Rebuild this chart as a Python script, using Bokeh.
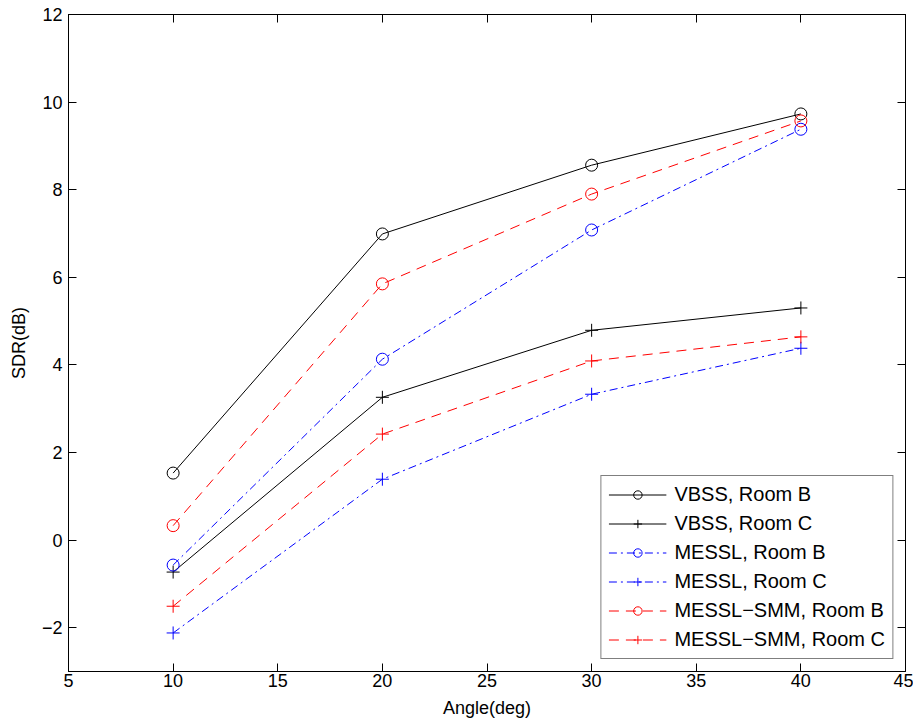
from bokeh.plotting import figure
from bokeh.models import LinearAxis, Range1d, FixedTicker, Legend, LegendItem
from bokeh.embed import file_html
from bokeh.resources import INLINE

angles = [10, 20, 30, 40]
vbss_b = [1.53, 6.99, 8.56, 9.73]
vbss_c = [-0.73, 3.26, 4.79, 5.30]
messl_b = [-0.57, 4.13, 7.08, 9.38]
messl_c = [-2.12, 1.39, 3.33, 4.38]
smm_b = [0.33, 5.85, 7.90, 9.57]
smm_c = [-1.51, 2.42, 4.09, 4.64]

x_ticks = [5, 10, 15, 20, 25, 30, 35, 40, 45]
y_ticks = [-2, 0, 2, 4, 6, 8, 10, 12]

FONT = "Liberation Sans"

p = figure(output_backend="svg", toolbar_location=None,
           frame_width=837, frame_height=657,
           x_range=Range1d(5, 45), y_range=Range1d(-3, 12),
           min_border_left=68, min_border_top=14, min_border_right=8,
           min_border_bottom=50)
p.background_fill_color = "white"
p.border_fill_color = "white"
p.outline_line_color = "black"
p.outline_line_width = 1
p.grid.visible = False

for ax in p.xaxis:
    ax.ticker = FixedTicker(ticks=x_ticks)
for ax in p.yaxis:
    ax.ticker = FixedTicker(ticks=y_ticks)

for ax in list(p.xaxis) + list(p.yaxis):
    ax.major_tick_in = 8
    ax.major_tick_out = 0
    ax.minor_tick_line_color = None
    ax.axis_line_color = "black"
    ax.major_tick_line_color = "black"
    ax.major_label_text_font = FONT
    ax.major_label_text_font_size = "18px"
    ax.major_label_text_color = "black"
    ax.axis_label_text_font = FONT
    ax.axis_label_text_font_size = "18px"
    ax.axis_label_text_font_style = "normal"
    ax.axis_label_text_color = "black"

p.xaxis.axis_label = "Angle(deg)"
p.yaxis.axis_label = "SDR(dB)"
p.yaxis.major_label_overrides = {-2: "\u22122"}
p.xaxis.major_label_standoff = 2
p.yaxis.major_label_standoff = 6
p.xaxis.axis_label_standoff = 8
p.yaxis.axis_label_standoff = 10

top = LinearAxis(ticker=FixedTicker(ticks=x_ticks), major_label_text_font_size="0px",
                 major_tick_in=8, major_tick_out=0, minor_tick_line_color=None,
                 major_label_standoff=0)
right = LinearAxis(ticker=FixedTicker(ticks=y_ticks), major_label_text_font_size="0px",
                   major_tick_in=8, major_tick_out=0, minor_tick_line_color=None,
                   major_label_standoff=0)
top.major_label_overrides = {t: "" for t in x_ticks}
right.major_label_overrides = {t: "" for t in y_ticks}
p.add_layout(top, "above")
p.add_layout(right, "right")

# (label, values, line colour, marker colour, dash, marker)
series = [
    ("VBSS, Room B", vbss_b, "#000000", "#010101", "solid", "circle"),
    ("VBSS, Room C", vbss_c, "#000000", "#000000", "solid", "cross"),
    ("MESSL, Room B", messl_b, "#0000ff", "#0000fe", "8 4 2 4", "circle"),
    ("MESSL, Room C", messl_c, "#0000ff", "#0000ff", "8 4 2 4", "cross"),
    ("MESSL\u2212SMM, Room B", smm_b, "#ff0000", "#fe0000", "10 7", "circle"),
    ("MESSL\u2212SMM, Room C", smm_c, "#ff0000", "#ff0000", "10 7", "cross"),
]

items = []
for label, ys, lcolor, mcolor, dash, marker in series:
    l = p.line(angles, ys, line_color=lcolor, line_dash=dash, line_width=1)
    if marker == "circle":
        m = p.scatter(angles, ys, marker="circle", size=12, fill_color=None,
                      line_color=mcolor, line_width=1)
    else:
        m = p.scatter(angles, ys, marker="cross", size=13, line_color=mcolor,
                      fill_color=mcolor, line_width=1)
    items.append(LegendItem(label=label, renderers=[l, m]))

legend = Legend(items=items, location="bottom_right")
legend.label_text_font = FONT
legend.label_text_font_size = "20px"
legend.label_text_color = "black"
legend.border_line_color = "black"
legend.border_line_width = 1
legend.background_fill_alpha = 1
legend.glyph_width = 58
legend.glyph_height = 21
legend.spacing = 6
legend.padding = 7
legend.margin = 12
legend.label_standoff = 8
legend.label_height = 21
p.add_layout(legend, "center")

open("out.html", "w").write(file_html(p, INLINE))
